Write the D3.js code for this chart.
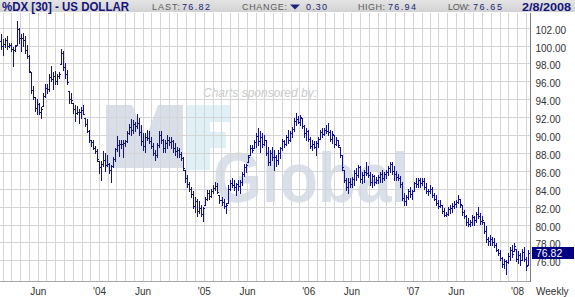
<!DOCTYPE html>
<html>
<head>
<meta charset="utf-8">
<title>US Dollar index weekly</title>
<script src="https://cdn.jsdelivr.net/npm/d3@7"></script>
<style>
body { margin: 0; background: #fff; }
#Chart svg { display: block; font-family: Arial, "Liberation Sans", sans-serif; }
</style>
</head>
<body>
<div id="Chart"></div>
<script>
//the weekly bars start on this friday and run to 2/8/2008
var firstWeek = new Date(2003, 0, 24)
var lastWeek = new Date(2008, 1, 8)

//one per week (264 of them)
var highs = [
101.3,100.7,100.9,101.1,100.3,100.3,99.8,100.1,102.7,102.0,
101.3,101.4,101.1,100.1,99.0,97.0,95.5,94.2,94.0,93.6,
93.1,94.7,95.7,95.7,96.8,97.7,97.0,97.2,96.8,97.0,
99.6,99.4,98.1,97.3,94.9,94.7,93.6,93.4,93.2,92.9,
93.1,93.4,91.9,91.8,90.6,89.5,89.5,88.8,88.4,87.1,
87.1,88.2,88.0,87.8,86.9,86.7,87.5,88.6,89.9,89.5,
89.5,89.5,89.5,90.4,91.2,91.8,91.7,91.5,92.4,91.9,
91.1,90.2,90.2,90.6,90.4,89.8,89.1,88.3,89.1,90.4,
90.4,89.6,89.4,90.0,89.8,89.8,89.4,89.1,88.7,88.5,
88.1,87.6,86.1,85.5,84.8,84.2,83.7,83.1,82.9,82.6,
82.2,82.0,83.1,83.9,83.9,84.0,84.4,84.8,84.6,83.3,
83.1,82.9,82.4,84.4,85.0,85.2,85.0,84.6,85.0,85.0,
85.9,86.8,86.8,87.8,88.9,88.9,89.4,90.2,90.8,90.4,
90.2,90.0,89.4,88.7,88.3,88.7,88.3,87.8,88.3,88.7,
89.6,89.4,90.0,90.6,90.4,90.9,91.9,92.5,92.1,92.2,
91.9,91.1,90.8,90.6,89.8,89.4,89.3,89.3,89.8,90.6,
90.8,90.8,91.1,91.3,90.6,90.4,90.0,89.8,89.4,88.7,
87.8,86.1,85.2,85.2,85.2,85.3,86.1,86.3,86.7,86.5,
85.9,86.1,87.0,86.5,85.9,85.7,85.5,85.3,85.5,85.9,
86.1,85.9,86.1,86.5,87.0,87.0,86.5,86.0,85.7,85.4,
84.8,83.5,83.3,84.0,84.2,83.9,84.8,85.2,85.2,85.2,
85.2,85.2,84.6,84.0,84.4,84.2,83.5,83.3,82.7,82.7,
82.2,81.8,81.4,82.0,82.2,82.4,82.6,82.7,83.3,82.9,
82.2,81.6,81.1,80.7,80.5,81.1,80.9,81.4,82.0,81.3,
80.9,80.3,79.8,78.6,78.8,78.6,78.5,77.9,77.3,77.2,
76.4,76.2,76.0,76.8,77.5,77.7,77.9,77.3,77.0,76.8,
77.3,77.5,76.4,77.2]

var lows = [
99.6,99.0,99.8,99.6,99.8,99.4,97.7,99.4,100.1,100.3,
99.4,100.0,99.2,98.6,97.0,94.7,94.0,92.7,92.3,92.3,
91.9,93.2,94.2,94.7,94.9,96.0,95.1,95.7,95.7,96.4,
97.9,97.3,96.4,95.7,93.6,93.6,92.5,91.6,92.3,91.4,
91.9,92.3,91.0,90.3,89.2,88.8,88.4,88.0,87.1,85.8,
85.0,86.5,86.0,86.5,85.8,84.7,86.4,87.1,88.2,87.7,
88.6,87.5,88.8,89.2,90.1,90.0,90.2,90.4,90.8,90.0,
88.9,88.3,88.1,89.4,89.1,88.5,87.8,87.2,87.6,88.7,
89.1,88.1,88.1,88.5,88.9,88.5,88.1,87.8,87.6,87.6,
87.2,86.1,84.8,84.2,83.7,83.1,81.8,81.4,80.9,81.3,
80.9,80.4,82.2,82.7,82.9,83.1,83.5,83.9,83.5,82.4,
82.2,81.8,81.3,82.4,83.9,84.2,83.9,83.3,83.9,83.5,
84.4,85.4,85.9,87.0,87.8,88.1,88.5,88.7,88.9,88.1,
88.7,88.9,87.8,86.7,86.7,87.2,86.1,86.5,86.8,87.4,
88.3,88.7,88.9,89.1,89.3,89.8,90.4,91.1,91.3,91.1,
90.8,89.8,89.4,89.3,88.5,88.3,88.5,87.8,88.7,89.6,
89.8,90.0,90.2,90.0,89.3,89.1,88.7,88.9,88.7,87.6,
86.1,84.8,83.9,83.5,84.2,84.2,84.4,85.0,85.3,84.8,
84.6,84.8,85.5,85.3,84.4,84.2,84.4,84.6,84.6,84.8,
84.8,85.0,85.2,85.5,85.9,85.7,85.0,85.0,85.0,84.2,
82.7,82.2,82.2,82.9,83.1,82.9,83.7,84.2,84.2,84.2,
84.4,84.0,83.5,83.3,83.5,83.1,82.7,82.2,81.8,82.0,
81.3,80.9,80.9,81.1,81.3,81.4,81.8,82.0,82.4,82.0,
81.1,80.7,79.9,79.8,79.8,79.9,79.9,80.3,80.7,80.1,
80.1,79.0,78.1,77.7,77.7,77.7,77.5,77.0,76.6,76.0,
75.3,75.1,74.5,75.7,76.0,76.4,77.0,75.9,75.7,75.5,
76.0,75.9,74.9,75.5]

var opens = [
100.5,100.0,100.2,100.6,100.0,100.1,99.6,99.5,100.1,101.8,
100.9,100.8,100.6,99.5,98.8,97.0,95.0,94.2,93.0,93.5,
92.6,93.2,94.4,95.3,95.1,96.5,96.3,96.6,96.0,96.6,
97.9,99.2,97.6,96.8,94.9,94.0,93.6,92.9,92.5,92.6,
92.6,92.8,91.9,91.2,90.5,89.4,89.2,88.6,88.2,87.1,
86.4,86.8,87.2,86.7,86.8,86.1,86.5,87.3,88.4,88.9,
89.0,89.0,89.1,89.3,90.2,90.9,90.6,91.2,91.0,91.4,
90.3,89.3,88.8,89.8,89.7,89.3,88.8,88.0,87.8,88.9,
90.0,89.4,88.6,89.1,89.5,89.2,89.3,88.6,88.2,88.3,
87.9,87.4,86.1,85.2,84.5,84.0,83.4,82.1,82.6,81.5,
81.8,81.2,82.2,82.9,83.5,83.2,83.7,84.1,84.3,83.3,
82.7,82.5,82.1,82.4,84.0,84.6,84.4,84.2,84.5,84.3,
84.8,85.6,86.4,87.0,87.8,88.6,88.5,89.2,89.9,89.3,
89.8,89.0,89.4,88.0,87.0,88.0,87.5,87.6,87.2,88.0,
88.5,89.3,89.0,89.8,89.5,90.2,90.7,91.6,91.8,91.5,
91.9,91.0,90.2,90.5,89.6,88.8,89.0,88.7,89.1,89.6,
90.3,90.1,90.6,90.5,90.3,89.6,90.0,89.0,89.4,88.7,
87.8,86.1,85.0,84.2,84.8,84.5,85.1,85.8,85.5,86.4,
85.1,85.5,85.9,85.8,85.5,84.7,85.4,84.8,85.0,85.3,
85.6,85.2,85.7,85.9,86.3,86.8,86.0,85.6,85.3,85.2,
84.5,83.0,82.6,83.1,83.7,83.4,83.8,84.6,84.5,85.0,
84.6,84.9,84.2,83.7,83.8,84.0,83.3,82.9,82.4,82.1,
82.2,81.5,81.1,81.2,81.7,81.9,82.1,82.3,82.5,82.8,
82.2,81.4,81.0,80.3,80.1,80.3,80.8,80.5,81.2,81.0,
80.4,80.3,79.3,78.4,78.2,78.4,78.0,77.7,77.2,76.8,
76.3,75.6,75.9,75.8,76.5,77.2,77.0,77.3,76.2,76.6,
76.0,76.9,76.2,75.5]

var closes = [
100.0,100.2,100.6,100.0,100.1,99.6,99.5,100.0,101.8,100.9,
100.8,100.6,99.5,98.8,97.2,95.0,94.2,93.0,93.5,92.6,
92.9,94.4,95.3,95.1,96.5,96.3,96.6,96.0,96.6,96.8,
99.2,97.6,96.8,95.9,94.0,93.9,92.9,92.5,92.6,92.6,
92.8,92.4,91.2,90.5,89.4,89.2,88.6,88.2,87.3,86.4,
86.8,87.2,86.7,86.8,86.1,86.5,87.3,88.4,88.9,89.0,
89.0,89.1,89.3,90.2,90.9,90.6,91.2,91.0,91.4,90.3,
89.3,88.8,89.8,89.7,89.3,88.8,88.0,87.8,88.9,90.0,
89.4,88.6,89.1,89.5,89.2,89.3,88.6,88.2,88.3,87.9,
87.4,86.3,85.2,84.5,84.0,83.4,82.1,82.6,81.5,81.8,
81.2,81.8,82.9,83.5,83.2,83.7,84.1,84.3,83.6,82.7,
82.5,82.1,82.2,84.0,84.6,84.4,84.2,84.5,84.3,84.8,
85.6,86.4,86.7,87.6,88.6,88.3,89.2,89.9,89.3,89.8,
89.0,89.5,88.0,87.0,88.0,87.5,87.6,87.2,88.0,88.5,
89.3,89.0,89.8,89.5,90.2,90.7,91.6,91.8,91.5,92.0,
91.0,90.2,90.5,89.6,88.8,89.0,88.7,89.1,89.6,90.3,
90.1,90.6,90.5,90.3,89.6,90.1,89.0,89.5,88.9,87.8,
86.4,85.0,84.2,84.8,84.5,85.1,85.8,85.5,86.4,85.1,
85.5,85.9,85.8,85.5,84.7,85.4,84.8,85.0,85.3,85.6,
85.2,85.7,85.9,86.3,86.8,86.0,85.6,85.3,85.2,84.5,
83.0,82.6,83.1,83.7,83.4,83.8,84.6,84.5,85.0,84.6,
84.9,84.2,83.7,83.8,84.0,83.3,82.9,82.4,82.1,82.2,
81.5,81.1,81.2,81.7,81.9,82.1,82.3,82.5,82.8,82.3,
81.4,81.0,80.3,80.1,80.3,80.8,80.5,81.2,81.0,80.4,
80.5,79.3,78.4,78.2,78.4,78.0,77.7,77.2,76.8,76.3,
75.6,75.9,75.8,76.5,77.2,76.7,77.6,76.2,76.6,76.0,
76.9,76.2,75.4,76.82]

//axis stuff
var yTicks = [76, 78, 80, 82, 84, 86, 88, 90, 92, 94, 96, 98, 100, 102]
var xLabelDates = ["2003-06-01", "2004-01-01", "2004-06-01", "2005-01-01", "2005-06-01",
                   "2006-01-01", "2006-06-01", "2007-01-01", "2007-06-01", "2008-01-01"]
var xLabelTexts = ["Jun", "'04", "Jun", "'05", "Jun", "'06", "Jun", "'07", "Jun", "'08"]

//the quote strip across the top
var title = "%DX [30] - US DOLLAR"
var quoteLabels = ["LAST:", "CHANGE:", "HIGH:", "LOW:"]
var quoteValues = ["76.82", "0.30", "76.94", "76.65"]
var quoteDate = "2/8/2008"
var lastPrice = 76.82

var navy = "#12128e"

var setup = function()
{
    //dimensions
    var screen = {width: 575, height: 297}
    var margins = {top: 13, left: 0, right: 45, bottom: 16}
    var width = screen.width - margins.left - margins.right
    var bottom = screen.height - margins.bottom

    //scales (absolute pixels, no translate on the plot group)
    var xScale = d3.scaleTime()
                    .domain([new Date(2003, 0, 20), new Date(2008, 1, 15)])
                    .range([0, width])

    var yScale = d3.scaleLinear()
                    .domain([76, 102])
                    .range([260.3, 27.7])

    var xGridScale = xScale.copy().interpolate(d3.interpolateRound)
    var yGridScale = yScale.copy().interpolate(d3.interpolateRound)

    var svg = d3.select("#Chart")
    .append("svg")
    .attr("width", screen.width)
    .attr("height", screen.height)

    drawWatermark(svg)

    //month grid, vertical lines
    var months = d3.timeMonth.range(new Date(2003, 1, 1), new Date(2008, 2, 1))
                    .filter(function(d) { return xScale(d) < width - 1 })

    var xGrid = d3.axisBottom(xGridScale)
                    .tickValues(months)
                    .tickSize(-(bottom - margins.top))
                    .tickFormat("")

    svg.append("g")
    .attr("class", "grid")
    .attr("transform", "translate(0," + bottom + ")")
    .call(xGrid)

    var yGrid = d3.axisLeft(yGridScale)
                    .tickValues(yTicks)
                    .tickSize(-width)
                    .tickFormat("")

    svg.append("g")
    .attr("class", "grid")
    .call(yGrid)

    svg.selectAll(".grid .domain").remove()
    svg.selectAll(".grid line")
    .attr("stroke", "#d5d5d5")

    //frame: bottom and right side
    svg.append("line")
    .attr("x1", 0).attr("x2", width)
    .attr("y1", bottom + 0.5).attr("y2", bottom + 0.5)
    .attr("stroke", "#a8a8a8")

    svg.append("line")
    .attr("x1", width + 0.5).attr("x2", width + 0.5)
    .attr("y1", margins.top).attr("y2", bottom + 1)
    .attr("stroke", "#7d7d7d")

    drawBars(svg, xScale, yScale)

    //price labels on the right
    var yAxis = d3.axisRight(yScale)
                    .tickValues(yTicks)
                    .tickSize(0)
                    .tickFormat(d3.format(".2f"))

    var yAxisG = svg.append("g")
    .attr("transform", "translate(" + width + ",0)")
    .call(yAxis)

    yAxisG.select(".domain").remove()
    yAxisG.selectAll("text")
    .attr("x", 5.5)
    .attr("dy", "0.55em")
    .attr("fill", "#333")
    .style("font-size", "10px")
    .style("font-family", "Arial, 'Liberation Sans', sans-serif")
    .attr("text-anchor", "start")

    //month / year labels
    var labelDates = xLabelDates.map(function(s) { return d3.timeParse("%Y-%m-%d")(s) })

    var xAxis = d3.axisBottom(xScale)
                    .tickValues(labelDates)
                    .tickSize(0)
                    .tickFormat(function(d, i) { return xLabelTexts[i] })

    var xAxisG = svg.append("g")
    .attr("transform", "translate(0," + bottom + ")")
    .call(xAxis)

    xAxisG.select(".domain").remove()
    xAxisG.selectAll("text")
    .attr("y", 0)
    .attr("dy", 14)
    .attr("fill", "#333")
    .style("font-size", "10px")
    .style("font-family", "Arial, 'Liberation Sans', sans-serif")

    svg.append("text")
    .attr("x", 536)
    .attr("y", bottom + 14)
    .attr("fill", "#333")
    .style("font-size", "10px")
    .text("Weekly")

    //last price box
    var ly = yScale(lastPrice)
    svg.append("rect")
    .attr("x", 532)
    .attr("y", Math.round(ly) - 6)
    .attr("width", 42)
    .attr("height", 12)
    .attr("fill", "#000080")

    svg.append("text")
    .attr("x", 536)
    .attr("y", Math.round(ly) + 4)
    .attr("fill", "#fff")
    .style("font-size", "10.5px")
    .text(d3.format(".2f")(lastPrice))

    drawHeader(svg, screen.width)
}

//faint sponsor logo behind the grid
var drawWatermark = function(svg)
{
    var wm = svg.append("g").attr("class", "watermark")

    wm.append("text")
    .attr("x", 203)
    .attr("y", 97)
    .attr("fill", "#cbcbcb")
    .attr("textLength", 114)
    .attr("lengthAdjust", "spacingAndGlyphs")
    .style("font-size", "12px")
    .style("font-style", "italic")
    .text("Charts sponsored by:")

    //the M
    wm.append("path")
    .attr("d", "M106,105 L132,105 L146,138 L158,105 L183,105 L183,168 L106,168 Z")
    .attr("fill", "#d8dfe9")

    //the F
    wm.append("path")
    .attr("d", "M186,105 L230,105 L230,122 L210,122 L210,132 L226,132 L226,148 L210,148 L210,170 L186,170 Z")
    .attr("fill", "#dff0f7")

    //squashed a bit sideways so it ends just before the SM mark
    wm.append("text")
    .attr("transform", "translate(213,202) scale(1,1.13)")
    .attr("fill", "#dae0ea")
    .style("font-size", "63px")
    .style("font-weight", "bold")
    .text("Global")

    wm.append("text")
    .attr("x", 414)
    .attr("y", 184)
    .attr("fill", "#d2d8e1")
    .style("font-size", "7px")
    .text("SM")
}

//ohlc bars, 1px wide with open tick left and close tick right
var drawBars = function(svg, xScale, yScale)
{
    var weeks = d3.timeFriday.range(firstWeek, d3.timeDay.offset(lastWeek, 1))
    console.log("weeks", weeks.length, highs.length, lows.length, opens.length, closes.length)

    var bars = weeks.map(function(d, i)
    {
        return {date: d, open: opens[i], high: highs[i], low: lows[i], close: closes[i]}
    })

    svg.append("g")
    .attr("class", "bars")
    .selectAll("path")
    .data(bars)
    .enter()
    .append("path")
    .attr("fill", navy)
    .attr("shape-rendering", "crispEdges")
    .attr("d", function(d)
    {
        var x = Math.round(xScale(d.date))
        var yh = Math.round(yScale(d.high))
        var yl = Math.round(yScale(d.low))
        var yo = Math.round(yScale(d.open))
        var yc = Math.round(yScale(d.close))
        return "M" + x + "," + yh + "h1V" + (yl + 1) + "h-1Z" +
               "M" + (x - 1) + "," + yo + "h1v1h-1Z" +
               "M" + (x + 1) + "," + yc + "h1v1h-1Z"
    })
}

//gray quote strip
var drawHeader = function(svg, w)
{
    var grad = svg.append("defs")
    .append("linearGradient")
    .attr("id", "headGrad")
    .attr("x1", 0).attr("x2", 0).attr("y1", 0).attr("y2", 1)

    grad.append("stop").attr("offset", "0%").attr("stop-color", "#e4e4e4")
    grad.append("stop").attr("offset", "100%").attr("stop-color", "#d2d2d2")

    svg.append("rect")
    .attr("x", 0).attr("y", 0)
    .attr("width", w).attr("height", 12)
    .attr("fill", "url(#headGrad)")

    svg.append("text")
    .attr("x", 2)
    .attr("y", 10.5)
    .attr("fill", "#14147a")
    .attr("textLength", 127)
    .attr("lengthAdjust", "spacingAndGlyphs")
    .style("font-size", "12px")
    .style("font-weight", "bold")
    .text(title)

    //label x, label width, value x, value width
    var spots = [[152, 28, 182, 28], [242, 45, 306, 21], [358, 27, 388, 28], [448, 22, 473, 29]]

    quoteLabels.forEach(function(lab, i)
    {
        var s = spots[i]
        svg.append("text")
        .attr("x", s[0]).attr("y", 9.5)
        .attr("fill", "#5a5a5a")
        .attr("textLength", s[1])
        .attr("lengthAdjust", "spacing")
        .style("font-size", "9px")
        .text(lab)

        svg.append("text")
        .attr("x", s[2]).attr("y", 9.5)
        .attr("fill", "#1c2378")
        .attr("textLength", s[3])
        .attr("lengthAdjust", "spacing")
        .style("font-size", "9px")
        .text(quoteValues[i])
    })

    //down arrow for the change
    svg.append("path")
    .attr("d", "M290,4.5 L300,4.5 L295,9.5 Z")
    .attr("fill", "#1c2378")

    svg.append("text")
    .attr("x", 522)
    .attr("y", 10.5)
    .attr("fill", "#14147a")
    .attr("textLength", 49)
    .attr("lengthAdjust", "spacingAndGlyphs")
    .style("font-size", "11.5px")
    .style("font-weight", "bold")
    .text(quoteDate)
}

setup()
</script>
</body>
</html>
